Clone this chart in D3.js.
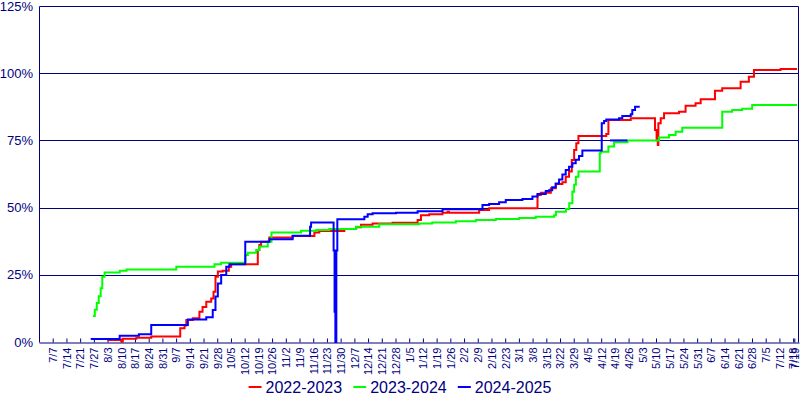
<!DOCTYPE html>
<html>
<head>
<meta charset="utf-8">
<script src="https://cdn.jsdelivr.net/npm/d3@7"></script>
<style>
  html, body { margin: 0; padding: 0; background: #fff; }
  svg { display: block; font-family: "Liberation Sans", Arial, sans-serif; }
</style>
</head>
<body>
<svg id="chart" width="800" height="400"></svg>
<script>
// ---- Data (x = day of season, y = percent) ----
const seriesNames = ["2022-2023", "2023-2024", "2024-2025"];
const seriesColors = ["#ff0000", "#00ff00", "#0000ff"];

const yTickValues = [0, 25, 50, 75, 100, 125];

const xTickLabels = ["7/7","7/14","7/21","7/27","8/3","8/10","8/17","8/24","8/31","9/7","9/14","9/21","9/28",
  "10/5","10/12","10/19","10/26","11/2","11/9","11/16","11/23","11/30","12/7","12/14","12/21","12/28",
  "1/5","1/12","1/19","1/26","2/2","2/9","2/16","2/23","3/1","3/8","3/15","3/22","3/29","4/5","4/12",
  "4/19","4/26","5/3","5/10","5/17","5/24","5/31","6/7","6/14","6/21","6/28","7/5","7/12","7/18","7/19"];
const xTickDays = [7,14,21,28,35,42,49,56,63,70,77,84,91,98,105,112,119,126,133,140,147,154,161,168,175,182,
  189,196,203,210,217,224,231,238,245,252,259,266,273,280,287,294,301,308,315,322,329,336,343,350,357,364,
  371,378,385,385.6];

// [day, percent] change points (value holds until next point)
const red2022 = [
  [34.9,0.7],[42.0,0.2],[42.8,1.2],[49.7,1.6],[57.3,2.0],[72.1,5.1],[74.3,6.1],[75.2,8.2],[78.5,8.8],
  [81.9,11.3],[83.5,13.0],[85.4,15.0],[87.9,16.2],[89.1,18.7],[90.1,24.3],[91.3,26.2],[93.8,26.5],
  [96.9,28.0],[98.1,28.9],[111.7,34.2],[112.5,36.1],[113.4,37.3],[117.6,38.9],[129.5,39.4],[140.6,40.7],
  [143.1,41.3],[155.9,42.0],[161.9,42.7],[164.4,43.6],[170.3,44.1],[180.5,44.4],[193.3,45.4],[195.0,47.2],
  [199.2,47.5],[206.0,48.1],[208.6,48.5],[209.3,48.1],[224.7,49.1],[229.8,49.8],[254.5,54.7],[256.2,55.5],
  [261.3,57.2],[263.8,58.8],[267.2,59.4],[268.9,61.5],[270.6,63.4],[272.0,67.7],[273.2,71.4],[274.3,73.9],
  [275.4,76.6],[289.6,77.4],[290.7,82.6],[302.1,83.2],[314.5,78.9],[315.3,75.1],[315.9,73.3],[316.2,81.4],
  [317.4,83.2],[319.1,85.1],[326.7,85.7],[330.1,87.9],[335.2,88.8],[337.8,90.3],[345.1,93.5],[348.8,94.4],
  [358.2,96.8],[362.4,98.7],[365.0,101.2],[378.6,101.6],[387.0,101.6]
];
const green2023 = [
  [27.5,9.7],[28.5,12.0],[29.5,14.5],[30.5,17.0],[31.5,20.0],[32.3,24.3],[33.5,25.9],[41.2,26.5],[44.7,27.0],
  [70.1,28.0],[89.6,28.9],[93.0,29.5],[105.4,32.4],[106.6,33.2],[110.9,34.2],[112.5,35.5],[116.8,37.3],
  [118.7,40.7],[133.8,41.4],[141.5,41.7],[148.2,42.0],[161.9,42.9],[173.7,43.8],[194.1,44.1],[200.8,44.5],
  [212.8,44.9],[223.0,45.4],[233.2,45.8],[245.1,46.1],[253.6,46.6],[263.0,47.2],[263.9,48.5],[269.0,49.5],
  [270.7,51.6],[272.3,55.9],[273.2,58.5],[274.1,61.5],[275.4,63.4],[286.3,70.2],[286.8,70.8],[290.7,72.7],
  [293.6,74.3],[300.4,75.0],[316.5,76.1],[321.6,77.0],[325.0,78.2],[328.4,79.7],[348.8,85.7],[353.9,86.3],
  [359.0,86.8],[364.1,88.2],[387.0,88.2]
];
const blue2024 = [
  [26.4,1.1],[41.2,2.3],[51.0,2.9],[57.3,6.3],[76.0,8.4],[85.4,9.2],[88.7,11.9],[90.1,16.9],[91.3,21.8],
  [93.0,24.9],[95.6,28.0],[97.2,28.9],[105.3,37.3],[117.6,38.2],[129.5,39.5],[138.4,42.9],[138.9,44.5],
  [150.4,34.0],[150.9,11.3],[151.3,0.0],[151.8,34.0],[152.3,45.7],[166.1,46.6],[167.8,47.5],[170.3,47.9],
  [182.3,48.1],[193.3,48.6],[206.0,49.4],[226.4,51.0],[229.8,51.3],[234.9,52.0],[238.3,52.8],[246.8,53.2],
  [251.9,54.1],[254.5,55.1],[258.7,56.2],[260.4,56.5],[262.0,57.6],[263.8,59.0],[265.5,60.5],[267.2,62.3],
  [268.9,64.0],[270.6,65.2],[272.3,66.5],[274.0,67.8],[275.7,69.2],[277.4,71.2],[287.3,81.4],[288.5,82.2],
  [289.6,82.8],[296.1,83.2],[297.8,84.1],[302.1,84.7],[302.9,86.3],[304.3,87.5],[306.7,87.5]
];
// short separate 2024-2025 segment visible at the 75% level in April
const blue2024b = [[291.5,75.0],[300.4,75.0]];
const allSeries = [red2022, green2023, blue2024, blue2024b];
const allColors = [seriesColors[0], seriesColors[1], seriesColors[2], seriesColors[2]];

// ---- Chart ----
const navy = "#000080";
const svg = d3.select("#chart");
const x = d3.scaleLinear().domain([0, 388]).range([39, 799]);
const y = d3.scaleLinear().domain([0, 125]).range([342, 6]);

// grid lines
svg.append("g").selectAll("line").data(yTickValues.filter(v => v > 0 && v < 125)).join("line")
  .attr("x1", x(0)).attr("x2", x(388))
  .attr("y1", d => Math.round(y(d)) + 0.5).attr("y2", d => Math.round(y(d)) + 0.5)
  .attr("stroke", navy).attr("stroke-width", 1);

// frame
svg.append("path")
  .attr("d", `M${x(0)+0.5},${Math.round(y(0))+0.5} V${Math.round(y(125))+0.5} H${Math.round(x(388))-0.5} V${Math.round(y(0))+0.5}`)
  .attr("fill", "none").attr("stroke", navy).attr("stroke-width", 1);

// x axis (inward ticks)
const xAxis = d3.axisBottom(x).tickValues(xTickDays).tickFormat((d, i) => xTickLabels[i]).tickSizeInner(-4).tickSizeOuter(0);
const gx = svg.append("g").attr("transform", `translate(0,${Math.round(y(0))+0.5})`).call(xAxis);
gx.select(".domain").attr("stroke", navy);
gx.selectAll(".tick line").attr("stroke", navy);
gx.selectAll(".tick text")
  .attr("fill", navy).attr("font-size", 11).attr("font-family", "Liberation Sans, Arial, sans-serif")
  .attr("text-anchor", "end").attr("transform", "rotate(-90)")
  .attr("x", -5).attr("y", 0).attr("dy", "0.35em");

// y axis labels
const yAxis = d3.axisLeft(y).tickValues(yTickValues).tickFormat(d => d + "%").tickSize(0).tickPadding(6);
const gy = svg.append("g").attr("transform", `translate(${x(0)},0)`).call(yAxis);
gy.select(".domain").remove();
gy.selectAll(".tick text").attr("fill", navy).attr("font-size", 13).attr("font-family", "Liberation Sans, Arial, sans-serif");

// lines
const line = d3.line().x(d => x(d[0])).y(d => y(d[1])).curve(d3.curveStepAfter);
svg.append("g").selectAll("path").data(allSeries).join("path")
  .attr("d", line).attr("fill", "none")
  .attr("stroke", (d, i) => allColors[i]).attr("stroke-width", 2);

// legend
const lg = svg.append("g");
const items = lg.selectAll("g").data(seriesNames).join("g");
items.append("line").attr("x1", 0).attr("x2", 13).attr("y1", 387).attr("y2", 387)
  .attr("stroke", (d, i) => seriesColors[i]).attr("stroke-width", 2);
items.append("text").attr("x", 17).attr("y", 393).text(d => d)
  .attr("fill", navy).attr("font-size", 16);
let cx = 0; const widths = [];
items.each(function() { widths.push(this.getBBox().width); });
items.attr("transform", (d, i) => { const t = `translate(${cx},0)`; cx += widths[i] + 11; return t; });
const total = cx - 11;
lg.attr("transform", `translate(${(798 - total) / 2 + 1},0)`);
</script>
</body>
</html>
